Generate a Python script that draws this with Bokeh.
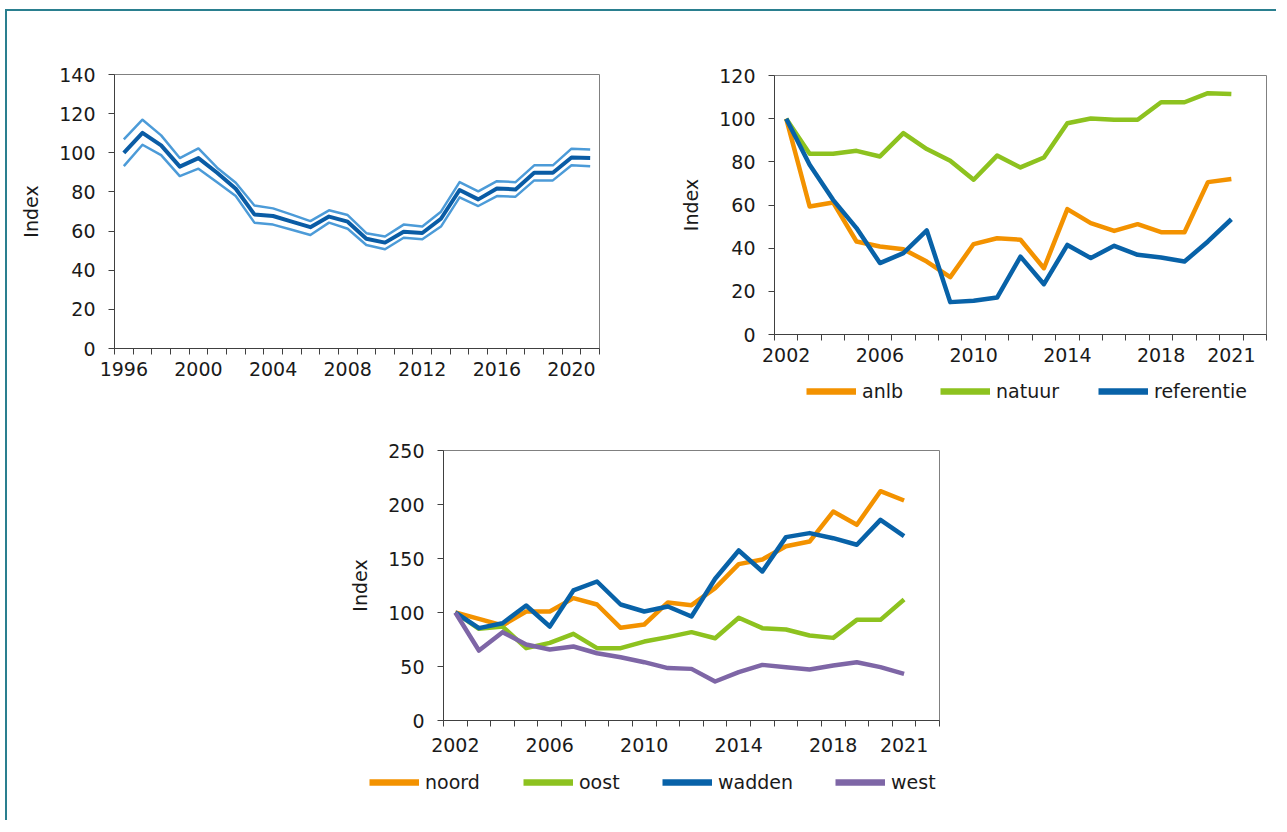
from bokeh.plotting import figure
from bokeh.layouts import column, row
from bokeh.models import (Range1d, FixedTicker, NumeralTickFormatter, Legend,
                          LegendItem, Spacer)
from bokeh.embed import file_html
from bokeh.resources import INLINE

# ---------------- data ----------------
years_a = list(range(1996, 2022))
mid_a = [100.0, 110.2, 103.8, 92.9, 97.3, 89.8, 81.6, 68.5, 67.7, 64.8, 62.0, 67.4, 64.8,
         56.1, 54.1, 59.7, 59.0, 66.3, 81.0, 76.2, 81.8, 81.3, 89.8, 89.8, 97.6, 97.3]
upper_a = [106.8, 116.9, 108.9, 97.3, 102.2, 92.4, 84.7, 73.1, 71.6, 68.4, 65.1, 70.6, 68.2,
           58.9, 57.2, 63.3, 62.3, 69.9, 85.0, 80.3, 85.5, 85.0, 93.6, 93.6, 102.1, 101.7]
lower_a = [93.2, 104.1, 98.8, 88.1, 91.9, 85.0, 77.9, 64.3, 63.3, 60.7, 58.0, 64.3, 61.2,
           52.9, 50.7, 56.6, 55.8, 62.3, 77.2, 72.8, 77.9, 77.6, 85.9, 85.9, 93.6, 93.1]
labels_a = [1996, 2000, 2004, 2008, 2012, 2016, 2020]

years_b = list(range(2002, 2022))
anlb = [100, 59.3, 61.2, 43.1, 40.8, 39.5, 33.8, 26.6, 41.9, 44.6, 43.9, 30.7, 58.1, 51.6,
        48.0, 51.1, 47.4, 47.4, 70.6, 72.0]
natuur = [100, 83.7, 83.7, 85.1, 82.5, 93.3, 85.9, 80.5, 71.7, 82.9, 77.4, 82.0, 97.9, 100.1,
          99.5, 99.5, 107.6, 107.6, 111.8, 111.4]
referentie = [100, 78.6, 62.4, 49.3, 33.1, 37.7, 48.2, 15.0, 15.6, 17.1, 36.1, 23.3, 41.5,
              35.4, 41.1, 36.9, 35.7, 33.8, 43.1, 53.4]
labels_b = [2002, 2006, 2010, 2014, 2018, 2021]

noord = [100, 94.1, 88.0, 100.9, 100.9, 113.3, 107.4, 85.8, 88.9, 109.3, 106.8, 122.5, 144.8,
         149.1, 161.4, 165.7, 193.5, 181.2, 212.3, 203.7]
oost = [100, 84.9, 87.0, 67.0, 71.9, 80.2, 67.0, 67.0, 73.1, 77.2, 81.8, 76.2, 95.1, 85.5,
        84.3, 78.7, 76.5, 93.2, 93.2, 112.0]
wadden = [100, 85.5, 90.1, 106.5, 87.0, 120.4, 128.7, 107.4, 100.9, 105.6, 96.3, 131.2, 157.4,
          138.0, 169.8, 173.5, 168.8, 162.7, 185.8, 170.7]
west = [100, 64.8, 81.8, 70.4, 65.7, 68.5, 62.3, 58.6, 54.0, 48.5, 47.8, 36.1, 44.8, 51.5,
        49.4, 47.2, 50.9, 54.0, 49.4, 43.2]

# ---------------- style ----------------
FONT = "DejaVu Sans"
FS = "19px"
TXT = "#1a1a1a"
AXC = "#404040"
ORANGE = "#F39200"
GREEN = "#8DC21F"
BLUE = "#0862A8"
PURPLE = "#7E66A6"
DARKBLUE = "#0A5CA5"
LIGHTBLUE = "#4C9BD8"
TEAL = "#2A7F8F"


def make_fig(width, height, mbl, mbr, mbt, mbb, x0, ncat, ymax, ystep, xlabels, xstand):
    p = figure(width=width, height=height, output_backend="svg", toolbar_location=None,
               x_range=Range1d(x0 - 0.5, x0 - 0.5 + ncat), y_range=Range1d(0, ymax),
               min_border_left=mbl, min_border_right=mbr, min_border_top=mbt,
               min_border_bottom=mbb, background_fill_color="white",
               border_fill_color="white")
    p.xgrid.visible = False
    p.ygrid.visible = False
    p.outline_line_color = "#808080"
    p.outline_line_width = 1

    xa = p.xaxis[0]
    xa.ticker = FixedTicker(ticks=xlabels,
                            minor_ticks=[x0 - 0.5 + i for i in range(ncat + 1)])
    xa.formatter = NumeralTickFormatter(format="0")
    xa.major_tick_out = 0
    xa.major_tick_in = 0
    xa.minor_tick_out = 6
    xa.minor_tick_in = 0
    xa.major_label_standoff = xstand

    ya = p.yaxis[0]
    ya.ticker = FixedTicker(ticks=list(range(0, ymax + 1, ystep)))
    ya.major_tick_out = 6
    ya.major_tick_in = 0
    ya.minor_tick_out = 0
    ya.minor_tick_in = 0
    ya.major_label_standoff = 13
    ya.axis_label = "Index"
    ya.axis_label_standoff = 14
    ya.axis_label_text_font_style = "normal"

    for ax in (xa, ya):
        ax.axis_line_color = AXC
        ax.major_tick_line_color = AXC
        ax.minor_tick_line_color = AXC
        ax.major_label_text_font = FONT
        ax.major_label_text_font_size = FS
        ax.major_label_text_color = TXT
        ax.axis_label_text_font = FONT
        ax.axis_label_text_font_size = FS
        ax.axis_label_text_color = TXT
    return p


def legend_fig(width, height, names, colors, xoffs):
    q = figure(width=width, height=height, output_backend="svg", toolbar_location=None,
               x_axis_location=None, y_axis_location=None,
               x_range=Range1d(0, 1), y_range=Range1d(0, 1), min_border=0,
               background_fill_color="white", border_fill_color="white")
    q.grid.visible = False
    q.outline_line_color = None
    for n, c, xo in zip(names, colors, xoffs):
        # swatch-only renderer: its points lie outside the visible range
        r = q.line(x=[0, 1], y=[5, 5], line_color=c, line_width=6.5)
        lg = Legend(items=[LegendItem(label=n, renderers=[r])], location=(xo, 9),
                    orientation="horizontal", padding=0, margin=0, glyph_width=50,
                    glyph_height=20, label_standoff=6, label_text_font=FONT,
                    label_text_font_size=FS, label_text_color=TXT,
                    border_line_color=None, background_fill_alpha=0)
        q.add_layout(lg)
    return q


# ---- chart 1 (top left) ----
p1 = make_fig(642, 400, 107, 50, 63, 63, years_a[0], len(years_a), 140, 20, labels_a, 7)
p1.line(years_a, upper_a, line_color=LIGHTBLUE, line_width=2.5, line_join="round")
p1.line(years_a, lower_a, line_color=LIGHTBLUE, line_width=2.5, line_join="round")
p1.line(years_a, mid_a, line_color=DARKBLUE, line_width=4, line_join="round")

# ---- chart 2 (top right) ----
p2 = make_fig(627, 360, 125, 10, 64, 37, years_b[0], len(years_b) + 1, 120, 20, labels_b, 7)
for ys, c in ((anlb, ORANGE), (natuur, GREEN), (referentie, BLUE)):
    p2.line(years_b, ys, line_color=c, line_width=4.5, line_join="round")
leg2 = legend_fig(627, 40, ["anlb", "natuur", "referentie"], [ORANGE, GREEN, BLUE],
                  [157, 291, 449])

# ---- chart 3 (bottom) ----
p3 = make_fig(652, 351, 136, 20, 39, 42, years_b[0], len(years_b) + 1, 250, 50, labels_b, 11)
for ys, c in ((noord, ORANGE), (oost, GREEN), (wadden, BLUE), (west, PURPLE)):
    p3.line(years_b, ys, line_color=c, line_width=4.5, line_join="round")
leg3 = legend_fig(652, 40, ["noord", "oost", "wadden", "west"],
                  [ORANGE, GREEN, BLUE, PURPLE], [62, 216, 355, 528])

layout = column(row(column(p1), column(column(p2), column(leg2))),
                row(Spacer(width=300, height=391), column(column(p3), column(leg3))),
                Spacer(width=10, height=18),
                margin=(9, 0, 0, 5),
                styles={"border-left": "2px solid " + TEAL, "border-top": "2px solid " + TEAL})

open("out.html", "w").write(file_html(layout, INLINE))
